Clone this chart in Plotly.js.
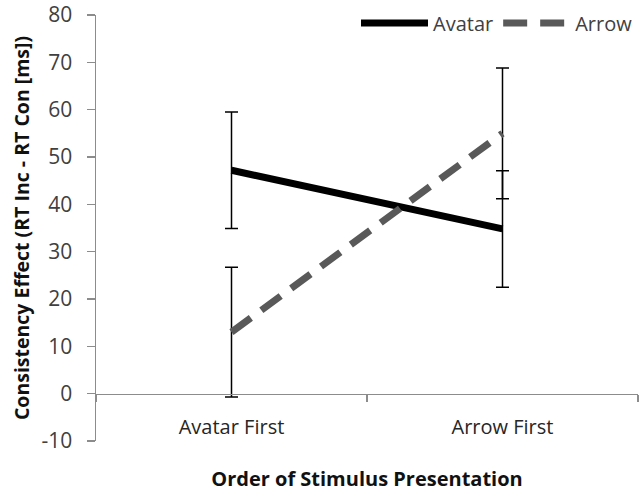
<!DOCTYPE html>
<html><head><meta charset="utf-8">
<script src="https://cdn.plot.ly/plotly-3.0.1.min.js"></script>
<style>html,body{margin:0;padding:0;background:#fff}#chart{width:641px;height:492px}</style>
</head><body><div id="chart"></div>
<script>
const categories = ["Avatar First", "Arrow First"];
const avatarValues = [47.2, 34.8];
const avatarErrors = [12.3, 12.3];
const arrowValues = [13.0, 55.0];
const arrowErrors = [13.7, 13.8];
const yTicks = [-10, 0, 10, 20, 30, 40, 50, 60, 70, 80];
const yTickText = ["-10", "0", "10", "20", "30", "40", "50", "60", "70", "80"];

const FONT = "Open Sans, Lato, sans-serif";
const data = [
  {type: "scatter", mode: "lines", name: "Avatar", x: categories, y: avatarValues,
   line: {color: "#000000", width: 7},
   error_y: {type: "data", array: avatarErrors, visible: true, color: "#000", thickness: 1.5, width: 6.5}},
  {type: "scatter", mode: "lines", name: "Arrow", x: categories, y: arrowValues,
   line: {color: "#595959", width: 7, dash: "24px,13px"},
   error_y: {type: "data", array: arrowErrors, visible: true, color: "#000", thickness: 1.5, width: 6.5}}
];
const layout = {
  width: 641, height: 492,
  margin: {l: 96, r: 3, t: 15, b: 51},
  paper_bgcolor: "#fff", plot_bgcolor: "#fff",
  font: {family: FONT, color: "#404040", size: 20},
  showlegend: true,
  legend: {orientation: "h", x: 1.0, xanchor: "right",
    y: 1 - 8/426, yanchor: "middle",
    font: {size: 20, color: "#404040", family: FONT}, itemwidth: 67, tracegroupgap: 0,
    traceorder: "normal", bgcolor: "rgba(0,0,0,0)"},
  xaxis: {type: "category", range: [-0.5, 1.5], anchor: "free", position: 10/90,
    showline: true, linecolor: "#8c8c8c", linewidth: 1.5, showgrid: false, zeroline: false,
    ticks: "outside", tickson: "boundaries", ticklen: 7, tickcolor: "#8c8c8c", tickwidth: 1.5,
    ticklabelstandoff: 15,
    tickfont: {size: 20, color: "#262626", family: FONT},
    title: {text: "<b>Order of Stimulus Presentation</b>", font: {size: 20, color: "#111", family: FONT}, standoff: 37}},
  yaxis: {range: [-10, 80], tickvals: yTicks, ticktext: yTickText, showline: true, linecolor: "#8c8c8c", linewidth: 1.5,
    showgrid: false, zeroline: false, ticks: "outside", ticklen: 8, tickcolor: "#8c8c8c", tickwidth: 1.5,
    ticklabelstandoff: 10,
    tickfont: {size: 21, color: "#404040", family: FONT},
    title: {text: "<b>Consistency Effect (RT Inc - RT Con [ms])</b>", font: {size: 19.5, color: "#111", family: FONT}, standoff: 6}}
};
Plotly.newPlot("chart", data, layout, {displayModeBar: false, staticPlot: true});
</script></body></html>
